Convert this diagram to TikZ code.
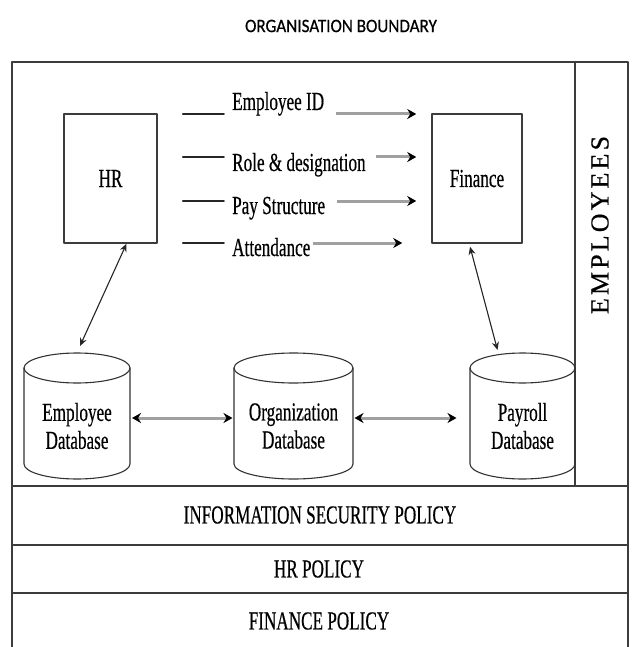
\documentclass[tikz,border=0pt]{standalone}
\usepackage{fontspec}
\setmainfont[FakeStretch=0.66,FakeBold=0.4]{Liberation Serif}
\newfontfamily\spacedfont[LetterSpace=12,FakeBold=0.4]{Liberation Serif}
\newfontfamily\titlefont[FakeStretch=0.9,FakeBold=0.6]{Carlito}
\usetikzlibrary{arrows.meta,positioning}

\begin{document}
\begin{tikzpicture}[x=1pt,y=1pt,line cap=round,line join=round,
  font=\fontsize{26}{28}\selectfont,
  frame/.style={draw=framegray, line width=1.8pt},
  unitbox/.style={draw=framegray, line width=1.5pt, minimum height=129pt, inner sep=0pt},
  flowlabel/.style={inner sep=2pt},
  stub/.style={draw=black!85, line width=1.5pt},
  flow/.style={draw=flowgray, line width=3pt, line cap=butt,
    -{Stealth[color=black,length=9pt,width=10pt]}},
  flowboth/.style={draw=flowgray, line width=3pt, line cap=butt,
    {Stealth[color=black,length=9pt,width=10pt]}-{Stealth[color=black,length=9pt,width=10pt]}},
  link/.style={draw=black!85, line width=1.1pt,
    {Stealth[length=8pt,width=7pt]}-{Stealth[length=8pt,width=7pt]}},
  dbline/.style={draw=black!80, line width=1.1pt},
  dbtext/.style={align=center, inner sep=0pt}]
\definecolor{framegray}{RGB}{60,60,60}
\definecolor{flowgray}{RGB}{160,160,160}

% #1 node name, #2 half width
\newcommand{\dbcyl}[2]{
  \draw[dbline] ([shift={(-#2,58)}]#1.center) -- ([shift={(-#2,-38)}]#1.center)
    arc[start angle=180, end angle=360, x radius=#2, y radius=15]
    -- ([shift={(#2,58)}]#1.center);
  \draw[dbline] ([yshift=58]#1.center) ellipse[x radius=#2, y radius=15];
}

\useasboundingbox (0,0) rectangle (634,-647);
\fill[white] (0,0) rectangle (634,-647);

% boundary and policy bands
\node[font=\titlefont\fontsize{19}{22}\selectfont] (boundary) at (341,-26) {ORGANISATION BOUNDARY};
\draw[frame] (12,-665) -- (12,-62) -- (628,-62) -- (628,-665);
\draw[frame] (575,-62) -- (575,-486);
\draw[frame] (12,-486) -- (628,-486);
\draw[frame] (12,-545) -- (628,-545);
\draw[frame] (12,-593) -- (628,-593);

\node[rotate=90, font=\spacedfont\fontsize{26}{28}\selectfont] (staff) at (600,-225) {EMPLOYEES};
\node (infosec) at (320,-515) {INFORMATION SECURITY POLICY};
\node (hrpolicy) at (319,-569) {HR POLICY};
\node (finpolicy) at (319,-621) {FINANCE POLICY};

% departments
\node[unitbox, minimum width=93pt] (hr) at (110.5,-178.5) {HR};
\node[unitbox, minimum width=90pt] (fin) at (477,-178.5) {Finance};

% data passed from HR to finance
\coordinate (r1) at (0,-114);
\coordinate (r2) at (0,-157);
\coordinate (r3) at (0,-201);
\coordinate (r4) at (0,-243);

\node[flowlabel, anchor=base west] (lblid) at (230,-110) {Employee ID};
\node[flowlabel, anchor=base west] (lblrole) at (230,-171) {Role \& designation};
\node[flowlabel, anchor=base west] (lblpay) at (230,-214) {Pay Structure};
\node[flowlabel, anchor=base west] (lblatt) at (230,-256) {Attendance};

\draw[stub] ([xshift=25]hr.east |- r1) -- ([xshift=-6]lblid.west |- r1);
\draw[stub] ([xshift=25]hr.east |- r2) -- ([xshift=-6]lblrole.west |- r2);
\draw[stub] ([xshift=25]hr.east |- r3) -- ([xshift=-6]lblpay.west |- r3);
\draw[stub] ([xshift=25]hr.east |- r4) -- ([xshift=-6]lblatt.west |- r4);

\draw[flow] ([xshift=10]lblid.east |- r1) -- ([xshift=-15]fin.west |- r1);
\draw[flow] ([xshift=8]lblrole.east |- r2) -- ([xshift=-15]fin.west |- r2);
\draw[flow] ([xshift=10]lblpay.east |- r3) -- ([xshift=-15]fin.west |- r3);
\draw[flow] ([xshift=0]lblatt.east |- r4) -- ([xshift=-29]fin.west |- r4);

% databases
\node[dbtext] (empdb) at (77,-426) {Employee\\Database};
\node[dbtext] (orgdb) at (293.5,-426) {Organization\\Database};
\node[dbtext] (paydb) at (522.5,-426) {Payroll\\Database};
\dbcyl{empdb}{53}
\dbcyl{orgdb}{59.5}
\dbcyl{paydb}{52.5}

\coordinate (r5) at (0,-418);
\draw[flowboth] ([xshift=55]empdb.center |- r5) -- ([xshift=-61]orgdb.center |- r5);
\draw[flowboth] ([xshift=61]orgdb.center |- r5) -- ([xshift=-66]paydb.center |- r5);

\draw[link] ([xshift=16]hr.south) -- ([shift={(3,80)}]empdb.center);
\draw[link] ([xshift=-7,yshift=-3]fin.south) -- ([shift={(-25,76)}]paydb.center);
\end{tikzpicture}
\end{document}
